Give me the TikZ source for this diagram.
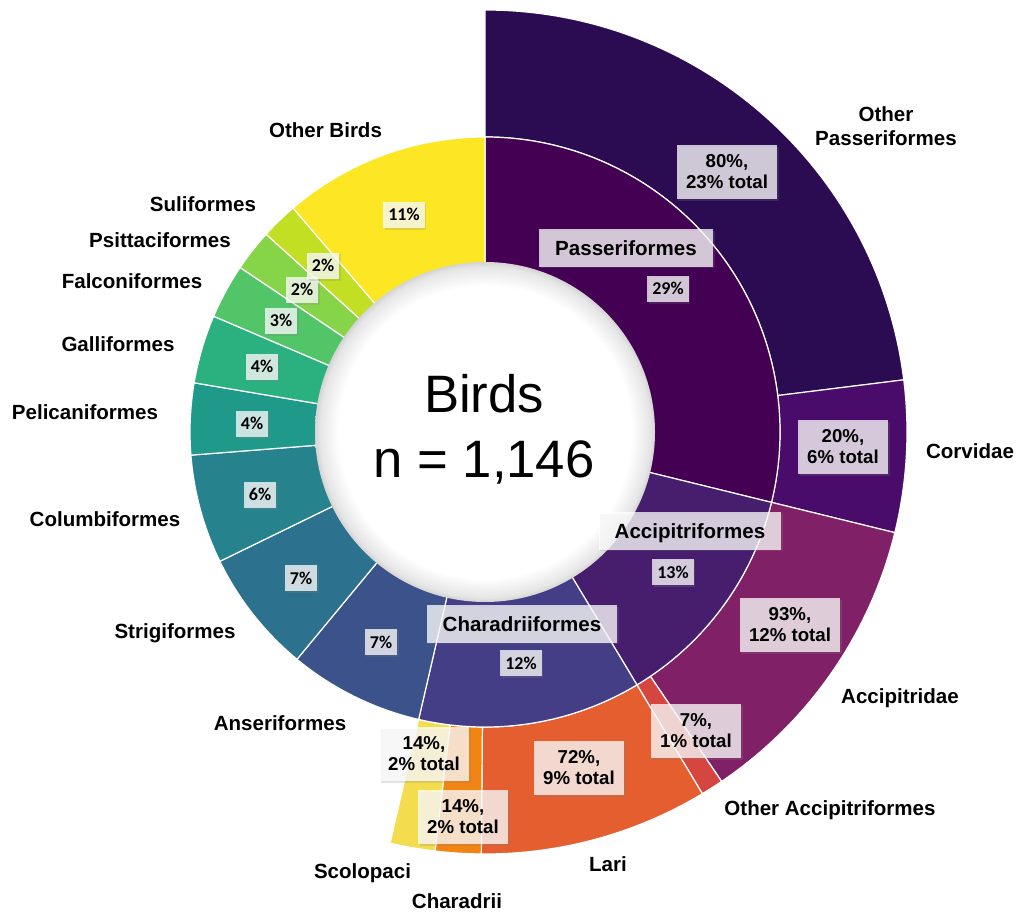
\documentclass[tikz,border=0pt]{standalone}
\usepackage{fontspec}
\setmainfont{Liberation Sans}
\newfontfamily\pctfont{Carlito}
\usetikzlibrary{shadows}
\definecolor{cPass}{HTML}{440154}
\definecolor{cOP}{HTML}{2B0C52}
\definecolor{cCorv}{HTML}{4A0C6B}
\definecolor{cAccip}{HTML}{471E6E}
\definecolor{cAccipitridae}{HTML}{802066}
\definecolor{cOA}{HTML}{D64640}
\definecolor{cChara}{HTML}{433E85}
\definecolor{cLari}{HTML}{E55E30}
\definecolor{cCharadrii}{HTML}{F28414}
\definecolor{cScolo}{HTML}{F3DC4E}
\definecolor{cAnser}{HTML}{3B528B}
\definecolor{cStrig}{HTML}{2C728E}
\definecolor{cColumb}{HTML}{26838E}
\definecolor{cPelican}{HTML}{1F9A8A}
\definecolor{cGalli}{HTML}{2BB07F}
\definecolor{cFalcon}{HTML}{52C569}
\definecolor{cPsitt}{HTML}{86D549}
\definecolor{cSuli}{HTML}{C2DF23}
\definecolor{cOther}{HTML}{FDE725}
\pgfdeclareradialshading{ballshade}{\pgfpoint{0bp}{0bp}}{color(0bp)=(white); color(21.5bp)=(white); color(24.3bp)=(black!10); color(25bp)=(black!17); color(50bp)=(black!17)}
\newcommand\ringseg[5]{\filldraw[segline, fill=#1] (#4-90:#2) arc[start angle=#4-90, end angle=#5-90, radius=#2] -- (#5-90:#3) arc[start angle=#5-90, end angle=#4-90, radius=#3] -- cycle;}
\tikzset{
 segline/.style={draw=white, line width=0.9pt},
 lbl/.style={font=\bfseries\fontsize{15.4}{18}\selectfont, anchor=base, inner sep=0pt},
 lbltwo/.style={font=\bfseries\fontsize{15.4}{18}\selectfont, align=center, inner sep=0pt},
 boxbase/.style={fill=white, fill opacity=0.75, text opacity=1, drop shadow={opacity=0.22, shadow xshift=1.3pt, shadow yshift=-1.3pt}},
 pbox/.style={boxbase, font=\pctfont\bfseries\fontsize{13.5}{15}\selectfont, text height=9pt, text depth=0pt, inner xsep=3.8pt, inner ysep=5.5pt},
 nbox/.style={boxbase, font=\bfseries\fontsize{15.4}{18}\selectfont, text height=11pt, text depth=0pt, inner xsep=12pt, inner ysep=8.4pt},
 tbox/.style={boxbase, font=\bfseries\fontsize{14}{15.8}\selectfont, align=center, inner xsep=7pt, inner ysep=7.5pt},
 centertxt/.style={font=\fontsize{39.5}{45}\selectfont, anchor=base, inner sep=0pt}
}
\begin{document}
\begin{tikzpicture}[x=0.75pt,y=-0.75pt]
\fill[white] (0,0) rectangle (1017,912);
\useasboundingbox (0,0) rectangle (1017,912);
\begin{scope}[shift={(485,432)}]
% outer ring
\ringseg{cOP}{295}{422}{0}{82.9}
\ringseg{cCorv}{295}{422}{82.9}{103.8}
\ringseg{cAccipitridae}{295}{422}{103.8}{145.9}
\ringseg{cOA}{295}{422}{145.9}{149}
\ringseg{cLari}{295}{422}{149}{180.5}
\ringseg{cCharadrii}{295}{422}{180.5}{186.8}
\ringseg{cScolo}{295}{422}{186.8}{193}
% inner ring
\ringseg{cPass}{160}{295}{0}{103.8}
\ringseg{cAccip}{160}{295}{103.8}{149}
\ringseg{cChara}{160}{295}{149}{193}
\ringseg{cAnser}{160}{295}{193}{219.6}
\ringseg{cStrig}{160}{295}{219.6}{244}
\ringseg{cColumb}{160}{295}{244}{265.5}
\ringseg{cPelican}{160}{295}{265.5}{279.6}
\ringseg{cGalli}{160}{295}{279.6}{293.1}
\ringseg{cFalcon}{160}{295}{293.1}{303.9}
\ringseg{cPsitt}{160}{295}{303.9}{312.1}
\ringseg{cSuli}{160}{295}{312.1}{319.4}
\ringseg{cOther}{160}{295}{319.4}{360}
% centre disc
\shade[shading=ballshade] (0,0) circle[radius=170];
\end{scope}
% centre text
\node[centertxt] (title) at (484,413) {Birds};
\node[centertxt] (count) at (484,478) {n = 1,146};
% boxes
\node[tbox] (bOP) at (727,172) {80\%,\\23\% total};
\node[nbox] (bPass) at (626,248) {Passeriformes};
\node[pbox] (pPass) at (668,289) {29\%};
\node[tbox] (bCorv) at (843,447) {20\%,\\6\% total};
\node[nbox] (bAccip) at (690,531) {Accipitriformes};
\node[pbox] (pAccip) at (673,572) {13\%};
\node[tbox] (bAccipitridae) at (790,625) {93\%,\\12\% total};
\node[tbox] (bOA) at (696,731) {7\%,\\1\% total};
\node[nbox] (bChara) at (522,624) {Charadriiformes};
\node[pbox] (pChara) at (521,663) {12\%};
\node[tbox] (bLari) at (579,768) {72\%,\\9\% total};
\node[tbox] (bScolo) at (424,754) {14\%,\\2\% total};
\node[tbox] (bCharadrii) at (463,817) {14\%,\\2\% total};
\node[pbox] (pAnser) at (381,642) {7\%};
\node[pbox] (pStrig) at (301,578) {7\%};
\node[pbox] (pColumb) at (260,495) {6\%};
\node[pbox] (pPelican) at (252,424) {4\%};
\node[pbox] (pGalli) at (262,367) {4\%};
\node[pbox] (pFalcon) at (281,321) {3\%};
\node[pbox] (pPsitt) at (302,290) {2\%};
\node[pbox] (pSuli) at (323,266) {2\%};
\node[pbox] (pOther) at (404,215) {11\%};
% outer labels
\node[lbltwo] (lOP) at (886,126) {Other\\Passeriformes};
\node[lbl] (lCorv) at (970,459) {Corvidae};
\node[lbl] (lAccipitridae) at (900,703) {Accipitridae};
\node[lbl] (lOA) at (830,815) {Other Accipitriformes};
\node[lbl] (lLari) at (608,871) {Lari};
\node[lbl] (lCharadrii) at (457,908) {Charadrii};
\node[lbl] (lScolo) at (362.5,878) {Scolopaci};
\node[lbl] (lAnser) at (280,730) {Anseriformes};
\node[lbl] (lStrig) at (175,638) {Strigiformes};
\node[lbl] (lColumb) at (105,526) {Columbiformes};
\node[lbl] (lPelican) at (85,420) {Pelicaniformes};
\node[lbl] (lGalli) at (118,352) {Galliformes};
\node[lbl] (lFalcon) at (132,289) {Falconiformes};
\node[lbl] (lPsitt) at (160,248) {Psittaciformes};
\node[lbl] (lSuli) at (203,212) {Suliformes};
\node[lbl] (lOther) at (325.5,138) {Other Birds};
\end{tikzpicture}
\end{document}
